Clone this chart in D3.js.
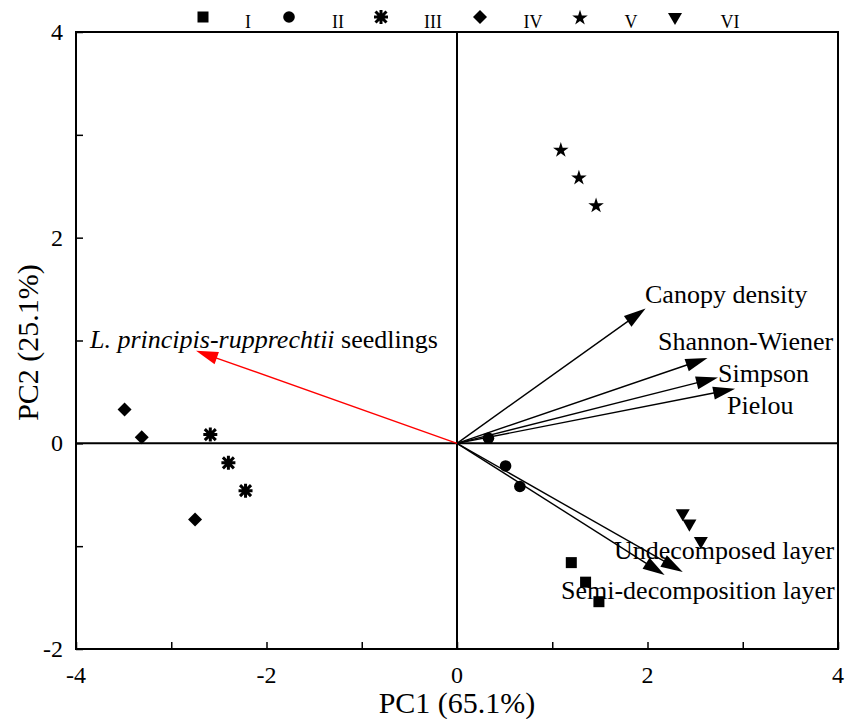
<!DOCTYPE html>
<html><head><meta charset="utf-8">
<script src="https://cdn.jsdelivr.net/npm/d3@7"></script>
<style>
body{margin:0;background:#fff;}
text{font-family:"Liberation Serif","Times New Roman",serif;fill:#000;}
</style></head><body>
<svg id="c" width="847" height="719"></svg>
<script>
const groups = ["I","II","III","IV","V","VI"];
const shapes = ["square","circle","asterisk","diamond","star","triangle"];
const ptsX = [
  [1.20,1.35,1.49],
  [0.33,0.51,0.66],
  [-2.59,-2.40,-2.22],
  [-3.49,-3.31,-2.75],
  [1.09,1.28,1.46],
  [2.37,2.44,2.56]
];
const ptsY = [
  [-1.16,-1.35,-1.54],
  [0.05,-0.22,-0.42],
  [0.085,-0.19,-0.46],
  [0.33,0.06,-0.74],
  [2.86,2.59,2.32],
  [-0.68,-0.78,-0.95]
];
const arrowNames = ["Canopy density","Shannon-Wiener","Simpson","Pielou","Undecomposed layer","Semi-decomposition layer","seedlings"];
const arrowX = [1.98,2.63,2.74,2.92,2.37,2.18,-2.74];
const arrowY = [1.31,0.83,0.64,0.53,-1.25,-1.28,0.90];
const xTicks = [-4,-2,0,2,4];
const yTicks = [-2,0,2,4];

const svg = d3.select("#c");
const L=76,R=838,T=32,B=649;
const x = d3.scaleLinear().domain([-4,4]).range([L,R]);
const y = d3.scaleLinear().domain([-2,4]).range([B,T]);

// frame
svg.append("rect").attr("x",L).attr("y",T).attr("width",R-L).attr("height",B-T)
  .attr("fill","none").attr("stroke","#000").attr("stroke-width",2);

// axes (inward ticks)
const xAxis = d3.axisBottom(x).tickValues(d3.range(-4,4.01,1)).tickSizeInner(-7).tickSizeOuter(0).tickFormat("");
const gx = svg.append("g").attr("transform",`translate(0,${B})`).call(xAxis);
gx.select(".domain").remove();
gx.selectAll(".tick line").attr("stroke-width",1.5);
const yAxis = d3.axisLeft(y).tickValues(d3.range(-2,4.01,1)).tickSizeInner(-7).tickSizeOuter(0).tickFormat("");
const gy = svg.append("g").attr("transform",`translate(${L},0)`).call(yAxis);
gy.select(".domain").remove();
gy.selectAll(".tick line").attr("stroke-width",1.5);

// tick labels
svg.selectAll(".xl").data(xTicks).enter().append("text")
  .attr("x",d=>x(d)).attr("y",B+34).attr("text-anchor","middle").attr("font-size",24).text(d=>d);
svg.selectAll(".yl").data(yTicks).enter().append("text")
  .attr("x",L-13).attr("y",d=>y(d)+8).attr("text-anchor","end").attr("font-size",24).text(d=>d);

// axis titles
svg.append("text").attr("x",x(0)).attr("y",713).attr("text-anchor","middle").attr("font-size",30).text("PC1 (65.1%)");
svg.append("text").attr("transform",`translate(38,${y(1)+2}) rotate(-90)`).attr("text-anchor","middle").attr("font-size",30).text("PC2 (25.1%)");

// zero lines
svg.append("line").attr("x1",L).attr("x2",R).attr("y1",y(0)).attr("y2",y(0)).attr("stroke","#000").attr("stroke-width",2);
svg.append("line").attr("x1",x(0)).attr("x2",x(0)).attr("y1",T).attr("y2",B).attr("stroke","#000").attr("stroke-width",2);

// arrows
function arrow(x0,y0,x1,y1,color){
  const dx=x1-x0, dy=y1-y0, len=Math.hypot(dx,dy), ux=dx/len, uy=dy/len;
  const hl=22, hw=6.5;
  const bx=x1-ux*hl, by=y1-uy*hl;
  svg.append("line").attr("x1",x0).attr("y1",y0).attr("x2",bx+ux*4).attr("y2",by+uy*4)
    .attr("stroke",color).attr("stroke-width",1.4);
  svg.append("path").attr("d",`M${x1},${y1}L${bx-uy*hw},${by+ux*hw}L${bx+uy*hw},${by-ux*hw}Z`).attr("fill",color);
}
arrowX.forEach((v,i)=>arrow(x(0),y(0),x(v),y(arrowY[i]), i===6?"#ff0000":"#000"));

// arrow labels
const lab = [
  {t:"Canopy density",x:645,y:303},
  {t:"Shannon-Wiener",x:658,y:350},
  {t:"Simpson",x:718,y:382},
  {t:"Pielou",x:727,y:414},
  {t:"Undecomposed layer",x:614,y:559},
  {t:"Semi-decomposition layer",x:561,y:599}
];
lab.forEach(d=>svg.append("text").attr("x",d.x).attr("y",d.y).attr("font-size",26).text(d.t));
const lt = svg.append("text").attr("x",90).attr("y",348).attr("font-size",26);
lt.append("tspan").attr("font-style","italic").text("L. principis-rupprechtii");
lt.append("tspan").text(" "+arrowNames[6]);

// markers
function marker(g,shape,cx,cy){
  if(shape==="square") g.append("rect").attr("x",cx-5.5).attr("y",cy-5.5).attr("width",11).attr("height",11);
  else if(shape==="circle") g.append("circle").attr("cx",cx).attr("cy",cy).attr("r",5.8);
  else if(shape==="diamond") g.append("path").attr("d",`M${cx},${cy-7}L${cx+7},${cy}L${cx},${cy+7}L${cx-7},${cy}Z`);
  else if(shape==="star") g.append("path").attr("d",d3.symbol(d3.symbolStar,75)()).attr("transform",`translate(${cx},${cy+1})`);
  else if(shape==="triangle") g.append("path").attr("d",d3.symbol(d3.symbolTriangle,85)()).attr("transform",`translate(${cx},${cy}) rotate(180)`);
  else if(shape==="asterisk"){
    const r=7, rd=5.5;
    const p=`M${cx},${cy-r}V${cy+r}M${cx-r},${cy}H${cx+r}M${cx-rd},${cy-rd}L${cx+rd},${cy+rd}M${cx-rd},${cy+rd}L${cx+rd},${cy-rd}`;
    g.append("path").attr("d",p).attr("stroke","#000").attr("stroke-width",3).attr("fill","none");
  }
}
const gm = svg.append("g").attr("fill","#000");
ptsX.forEach((arr,i)=>arr.forEach((v,j)=>marker(gm,shapes[i],x(v),y(ptsY[i][j]))));

// legend
const legSym=[203,289,381,480,580,675], legTxt=[248,338,433,533,631,730];
groups.forEach((g,i)=>{
  marker(gm,shapes[i],legSym[i],17);
  svg.append("text").attr("x",legTxt[i]).attr("y",28).attr("text-anchor","middle").attr("font-size",18).text(g);
});
</script></body></html>
